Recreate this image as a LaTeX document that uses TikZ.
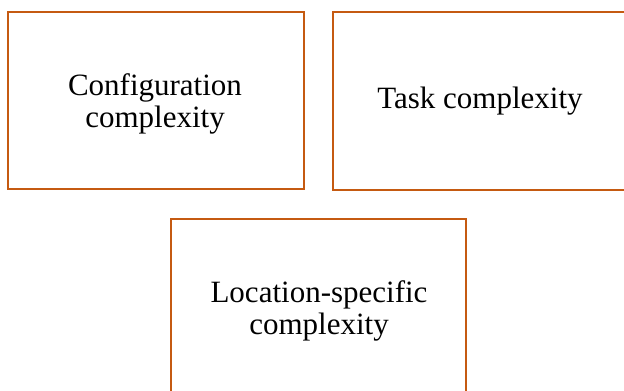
\documentclass[tikz,border=0pt]{standalone}
\usepackage{fontspec}
\setmainfont{Liberation Serif}
\definecolor{boxorange}{RGB}{197,90,17}
\tikzset{
  cbox/.style={draw=boxorange, line width=2.8pt, inner sep=0pt},
  ctext/.style={align=center, inner sep=0pt, font=\fontsize{31}{31.5}\selectfont, text=black}
}
\begin{document}
\begin{tikzpicture}[x=1pt,y=-1pt]
\useasboundingbox (0,0) rectangle (624,391);
\clip (0,0) rectangle (624,391);
\node[cbox, minimum width=296pt, minimum height=177pt] (cfg) at (156,100.5) {};
\node[ctext] (cfgt) at (155,104) {Configuration\\complexity};
\node[cbox, minimum width=293pt, minimum height=178pt] (task) at (479.5,101) {};
\node[ctext] (taskt) at (480,101) {Task complexity};
\node[cbox, minimum width=295pt, minimum height=176pt] (loc) at (318.5,307) {};
\node[ctext] (loct) at (319,311) {Location-specific\\complexity};
\end{tikzpicture}
\end{document}
